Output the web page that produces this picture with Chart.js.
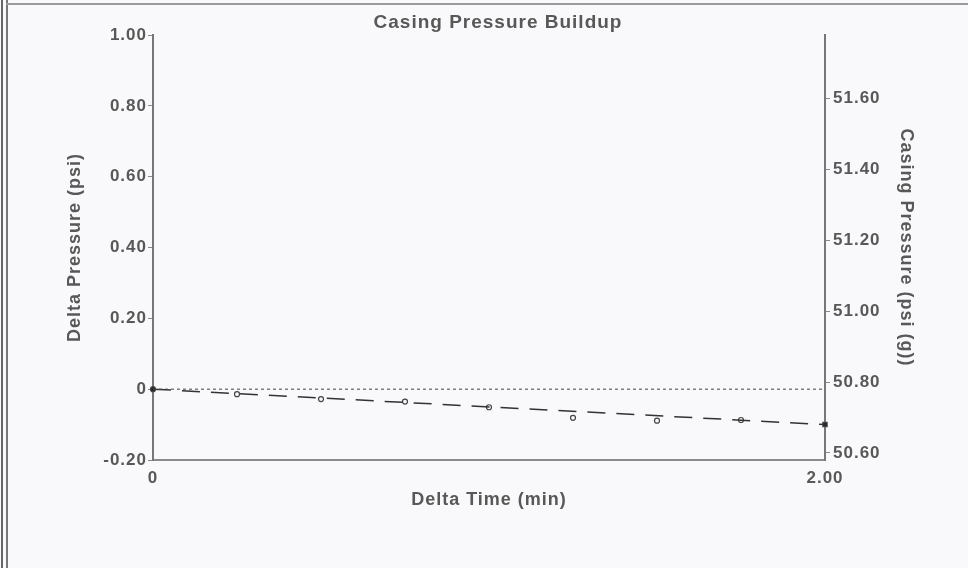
<!DOCTYPE html>
<html>
<head>
<meta charset="utf-8">
<script src="https://cdn.jsdelivr.net/npm/chart.js@4.4.1/dist/chart.umd.min.js"></script>
<style>
html,body{margin:0;padding:0;background:#f9f9fb;}
#grafica{position:relative;width:968px;height:568px;overflow:hidden;}
#myChart{position:absolute;left:0;top:0;}
.marcoA{position:absolute;left:1px;top:0;width:2px;height:568px;background:#666;}
.marcoB{position:absolute;left:6px;top:0;width:2px;height:568px;background:#777;}
.marcoC{position:absolute;left:6px;top:3px;width:962px;height:2px;background:#9a9a9a;}
</style>
</head>
<body>
<div id="grafica">
	<canvas id="myChart" width="968" height="568"></canvas>
	<div class="marcoA"></div><div class="marcoB"></div><div class="marcoC"></div>
</div>
<script>
// datos
var tiempo = [0, 0.25, 0.5, 0.75, 1.0, 1.25, 1.5, 1.75, 2.0];
var deltaPresion = [0, -0.014, -0.028, -0.035, -0.051, -0.081, -0.089, -0.087, -0.100];
var tendenciaX = [0, 2.0];
var tendenciaY = [0, -0.100];
var referenciaY = [0, 0];
var ticksX = [0, 2.0];
var ticksIzq = [-0.2, 0, 0.2, 0.4, 0.6, 0.8, 1.0];
var ticksDer = [50.6, 50.8, 51.0, 51.2, 51.4, 51.6];

var gris = '#585858';
var fuente = 'Liberation Sans, Arial, sans-serif';
var myChart = document.getElementById('myChart');

function puntos(xs, ys) {
	return xs.map(function(x, i){ return {x: x, y: ys[i]}; });
}

// espaciado de letras como en la imagen original
var espaciado = {
	id: 'espaciado',
	beforeLayout: function(chart){ chart.ctx.letterSpacing = '1px'; },
	beforeDraw: function(chart){ chart.ctx.letterSpacing = '1px'; }
};

var ultimo = tiempo.length - 1;

var grafica = new Chart(myChart, {
	type: 'scatter',
	data: {
		datasets: [
		//linea de referencia punteada
		{
			data: puntos(tendenciaX, referenciaY),
			showLine: true,
			borderColor: '#444',
			borderWidth: 1,
			borderDash: [3, 3],
			pointRadius: 0,
			clip: false
		},
		//tendencia
		{
			data: puntos(tendenciaX, tendenciaY),
			showLine: true,
			borderColor: '#333',
			borderWidth: 1.5,
			borderDash: [18, 11],
			pointRadius: 0,
			clip: false
		},
		//SERIE1
		{
			data: puntos(tiempo, deltaPresion),
			showLine: false,
			pointStyle: function(c){ return c.dataIndex === ultimo ? 'rect' : 'circle'; },
			pointRadius: function(c){ return c.dataIndex === ultimo ? 3 : 2.5; },
			pointBorderColor: '#444',
			pointBorderWidth: 1.2,
			pointBackgroundColor: function(c){
				return (c.dataIndex === 0 || c.dataIndex === ultimo) ? '#222' : '#f9f9fb';
			},
			clip: false
		}
		]
	},
	options: {
		responsive: false,
		animation: false,
		devicePixelRatio: 1,
		layout: {padding: {left: 28, right: 0, top: 0, bottom: 0}},
		plugins: {
			legend: {display: false},
			tooltip: {enabled: false},
			title: {
				display: true,
				text: 'Casing Pressure Buildup',
				color: gris,
				font: {family: fuente, size: 19, weight: 'bold'},
				padding: {top: 11, bottom: 1.2}
			}
		},
		scales: {
			x: {
				type: 'linear',
				position: 'bottom',
				min: 0,
				max: 2,
				afterBuildTicks: function(s){ s.ticks = ticksX.map(function(v){ return {value: v}; }); },
				afterFit: function(s){ s.height = 108; },
				grid: {display: false},
				border: {display: true, color: '#8a8a8a', width: 2},
				ticks: {
					color: gris,
					font: {family: fuente, size: 17, weight: 'bold'},
					padding: 0,
					maxRotation: 0,
					autoSkip: false,
					callback: function(v){ return v === 0 ? '0' : v.toFixed(2); }
				},
				title: {
					display: true,
					text: 'Delta Time (min)',
					color: gris,
					font: {family: fuente, size: 18, weight: 'bold'},
					padding: {top: 0, bottom: 57.2}
				}
			},
			y: {
				position: 'left',
				min: -0.2,
				max: 1.0,
				afterBuildTicks: function(s){ s.ticks = ticksIzq.map(function(v){ return {value: v}; }); },
				afterFit: function(s){ s.width = 125; },
				grid: {drawOnChartArea: false, drawTicks: true, tickLength: 5, color: '#888'},
				border: {display: true, color: '#777', width: 2},
				ticks: {
					color: gris,
					font: {family: fuente, size: 17, weight: 'bold'},
					padding: 1,
					callback: function(v){ return v === 0 ? '0' : v.toFixed(2); }
				},
				title: {
					display: true,
					text: 'Delta Pressure (psi)',
					color: gris,
					font: {family: fuente, size: 18, weight: 'bold'},
					padding: {top: 36.2, bottom: 0}
				}
			},
			y2: {
				display: true,
				position: 'right',
				min: 50.58,
				max: 51.78,
				afterBuildTicks: function(s){ s.ticks = ticksDer.map(function(v){ return {value: v}; }); },
				afterFit: function(s){ s.width = 143; },
				grid: {drawOnChartArea: false, drawTicks: true, tickLength: 5, color: '#888'},
				border: {display: true, color: '#777', width: 2},
				ticks: {
					color: gris,
					font: {family: fuente, size: 17, weight: 'bold'},
					padding: 3,
					callback: function(v){ return v.toFixed(2); }
				},
				title: {
					display: true,
					text: 'Casing Pressure (psi (g))',
					color: gris,
					font: {family: fuente, size: 18, weight: 'bold'},
					padding: {top: 51.2, bottom: 0}
				}
			}
		}
	},
	plugins: [espaciado]
});
//fin de la construccion
</script>
</body>
</html>
